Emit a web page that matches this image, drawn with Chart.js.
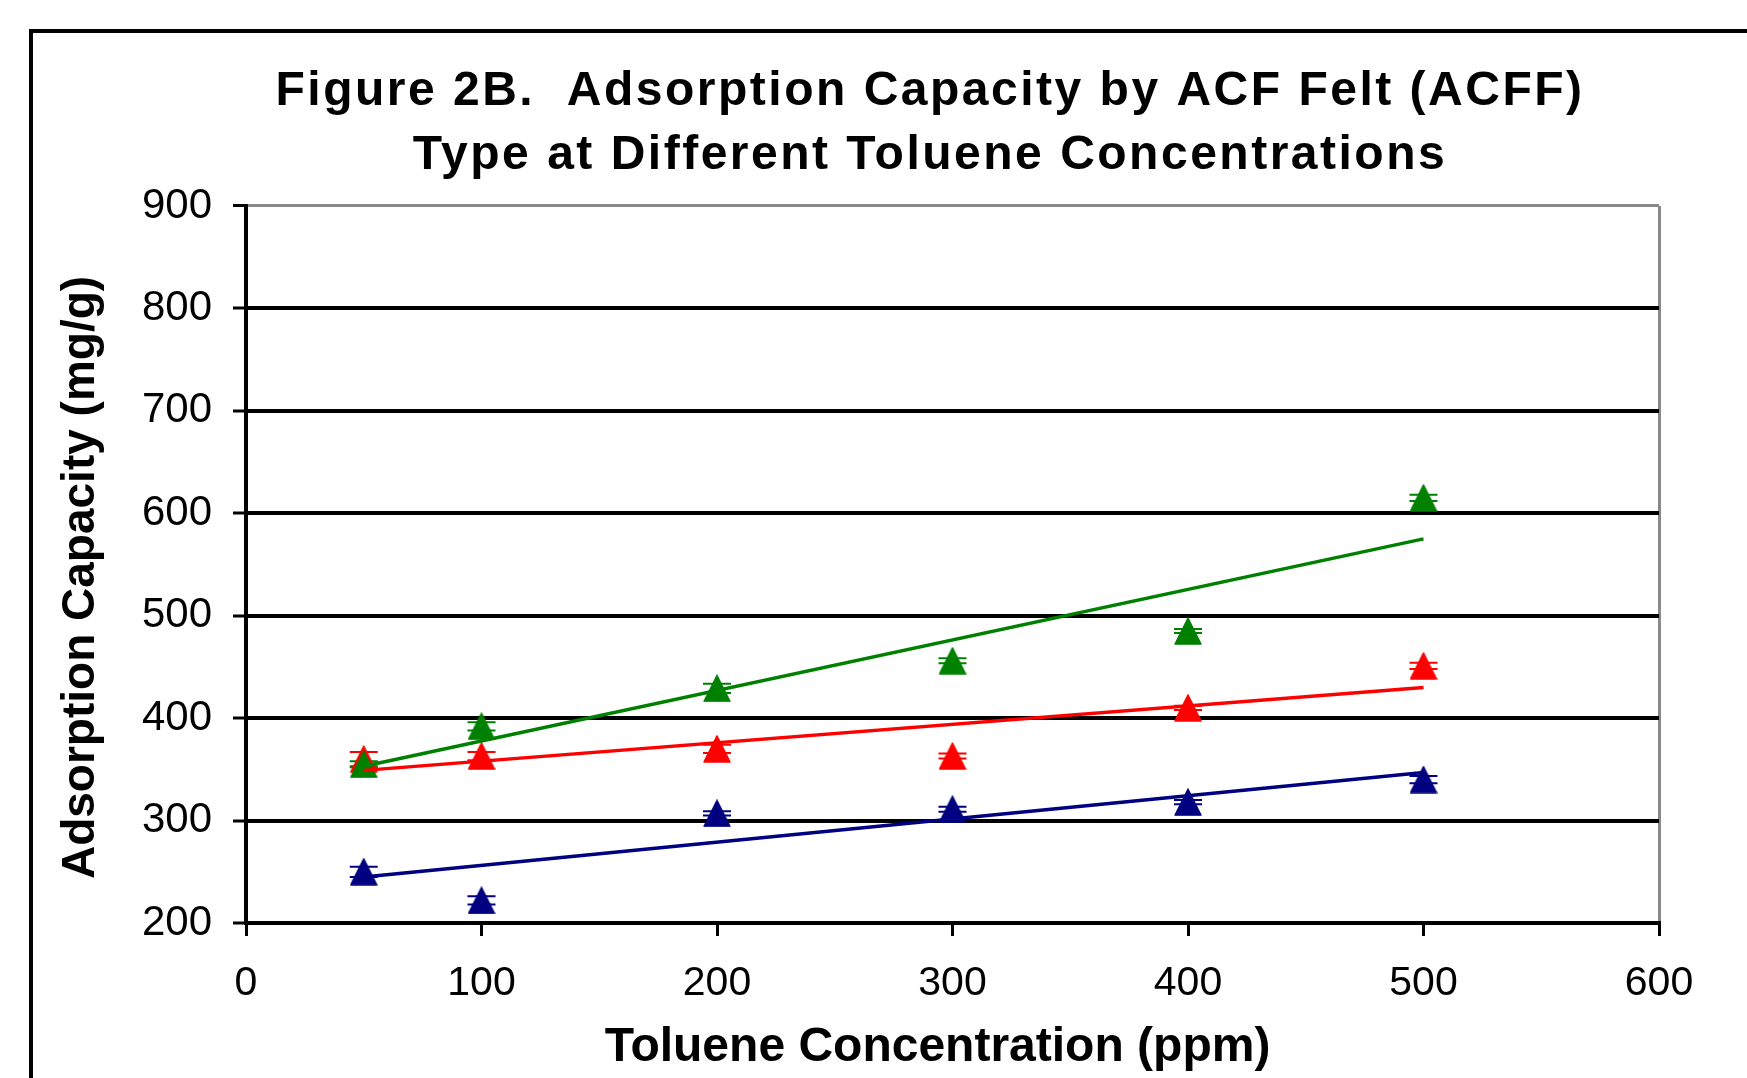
<!DOCTYPE html>
<html>
<head>
<meta charset="utf-8">
<script src="https://cdn.jsdelivr.net/npm/chart.js@4"></script>
<style>
  html, body { margin: 0; padding: 0; background: #fff; overflow: hidden; width: 1747px; height: 1078px; }
  #frame { position: absolute; left: 29px; top: 29px; width: 1900px; height: 1300px; border: 4px solid #000; box-sizing: border-box; }
  #wrap { position: absolute; left: 0; top: 0; width: 1860px; height: 1078px; }
</style>
</head>
<body>
<div id="frame"></div>
<div id="wrap"><canvas id="c" width="1860" height="1078"></canvas></div>
<script>
// ---- data ----
const concentrations = [50, 100, 200, 300, 400, 500];          // ppm
const acffBlue  = [250, 222, 307, 311, 318, 340];              // mg/g
const acffRed   = [360, 363, 370, 363, 410, 451];
const acffGreen = [355, 392, 429, 456, 485, 615];
const errBlue   = [5, 4, 2, 2.5, 2, 3.5];
const errRed    = [7, 4, 4, 2.5, 2, 3];
const errGreen  = [3, 4, 4.5, 2.5, 2, 3];
const trendX     = [50, 500];
const trendBlue  = [245, 347];
const trendRed   = [349, 430];
const trendGreen = [353, 575];
const xTickValues = [0, 100, 200, 300, 400, 500, 600];
const yTickValues = [200, 300, 400, 500, 600, 700, 800, 900];
const titleLines = ['Figure 2B.  Adsorption Capacity by ACF Felt (ACFF)', 'Type at Different Toluene Concentrations'];
const xTitle = 'Toluene Concentration (ppm)';
const yTitle = 'Adsorption Capacity (mg/g)';

const NAVY = '#000080', RED = '#FF0000', GREEN = '#008000', GRAY = '#888888';
const FAMILY = '"Liberation Sans", Arial, sans-serif';

function triangle(color) {
  const c = document.createElement('canvas');
  c.width = 28; c.height = 28;
  const g = c.getContext('2d');
  g.fillStyle = color; g.strokeStyle = color; g.lineWidth = 1.5; g.lineJoin = 'round';
  g.beginPath(); g.moveTo(14, 1); g.lineTo(27, 27); g.lineTo(1, 27); g.closePath();
  g.fill(); g.stroke();
  return c;
}
const pts = (xs, ys) => xs.map((x, i) => ({x, y: ys[i]}));

const errorSeries = [
  {ys: acffBlue, err: errBlue, color: NAVY},
  {ys: acffRed, err: errRed, color: RED},
  {ys: acffGreen, err: errGreen, color: GREEN}
];

const errorBars = {
  id: 'errorBars',
  beforeDatasetsDraw(chart) {
    const {ctx, scales: {x, y}} = chart;
    ctx.save();
    ctx.lineWidth = 2;
    errorSeries.forEach(s => {
      ctx.strokeStyle = s.color;
      concentrations.forEach((cx, i) => {
        const px = x.getPixelForValue(cx);
        const yt = y.getPixelForValue(s.ys[i] + s.err[i]);
        const yb = y.getPixelForValue(s.ys[i] - s.err[i]);
        ctx.beginPath();
        ctx.moveTo(px, yt); ctx.lineTo(px, yb);
        ctx.moveTo(px - 14, yt); ctx.lineTo(px + 14, yt);
        ctx.moveTo(px - 14, yb); ctx.lineTo(px + 14, yb);
        ctx.stroke();
      });
    });
    ctx.restore();
  }
};

// text placement tweaks: letter spacing of the chart title, small offsets of the axis titles
const textTweaks = {
  id: 'textTweaks',
  beforeDraw(chart) {
    const tb = chart.titleBlock;
    if (tb && !tb._tweaked) {
      const orig = tb.draw.bind(tb);
      tb.draw = function (area) {
        const c = this.ctx; const prev = c.letterSpacing;
        c.letterSpacing = '2.5px';
        orig(area);
        c.letterSpacing = prev;
      };
      tb._tweaked = true;
    }
    const shift = (scale, dx, dy) => {
      if (!scale || scale._tweaked) return;
      const orig = scale.drawTitle.bind(scale);
      scale.drawTitle = function () {
        const c = this.ctx; c.save(); c.translate(dx, dy); orig(); c.restore();
      };
      scale._tweaked = true;
    };
    shift(chart.scales.x, -15, 2);
    shift(chart.scales.y, 0, 13);
  }
};

new Chart(document.getElementById('c'), {
  type: 'scatter',
  data: {
    datasets: [
      {type: 'line', label: 'Trend blue', data: pts(trendX, trendBlue), borderColor: NAVY, borderWidth: 3.5, pointRadius: 0, order: 1},
      {type: 'line', label: 'Trend green', data: pts(trendX, trendGreen), borderColor: GREEN, borderWidth: 3.5, pointRadius: 0, order: 2},
      {type: 'line', label: 'Trend red', data: pts(trendX, trendRed), borderColor: RED, borderWidth: 3.5, pointRadius: 0, order: 3},
      {label: 'ACFF green', data: pts(concentrations, acffGreen), pointStyle: triangle(GREEN), pointRadius: 14, backgroundColor: GREEN, borderColor: GREEN, order: 4},
      {label: 'ACFF red', data: pts(concentrations, acffRed), pointStyle: triangle(RED), pointRadius: 14, backgroundColor: RED, borderColor: RED, order: 5},
      {label: 'ACFF blue', data: pts(concentrations, acffBlue), pointStyle: triangle(NAVY), pointRadius: 14, backgroundColor: NAVY, borderColor: NAVY, order: 6}
    ]
  },
  options: {
    responsive: false,
    animation: false,
    devicePixelRatio: 1,
    layout: {padding: 0},
    plugins: {
      legend: {display: false},
      tooltip: {enabled: false},
      title: {
        display: true,
        text: titleLines,
        color: '#000',
        font: {family: FAMILY, size: 48, weight: 'bold', lineHeight: 1.333},
        padding: {top: 60, bottom: 18}
      }
    },
    scales: {
      x: {
        type: 'linear', position: 'bottom',
        min: xTickValues[0], max: xTickValues[xTickValues.length - 1],
        afterBuildTicks: s => { s.ticks = xTickValues.map(v => ({value: v})); },
        afterFit: s => { s.height = 155; },
        ticks: {color: '#000', font: {family: FAMILY, size: 41}, padding: 23, maxRotation: 0},
        grid: {
          color: c => (c.tick && c.tick.value === 600) ? GRAY : 'rgba(0,0,0,0)',
          lineWidth: 3, tickLength: 13, tickColor: '#000', tickWidth: 3
        },
        border: {display: true, color: '#000', width: 4},
        title: {display: true, text: xTitle, color: '#000', font: {family: FAMILY, size: 48, weight: 'bold', lineHeight: 1.2}, padding: {top: 0, bottom: 3}}
      },
      y: {
        type: 'linear', position: 'left',
        min: yTickValues[0], max: yTickValues[yTickValues.length - 1],
        afterBuildTicks: s => { s.ticks = yTickValues.map(v => ({value: v})); },
        afterFit: s => { s.width = 246; },
        ticks: {color: '#000', font: {family: FAMILY, size: 42}, padding: 21},
        grid: {
          color: c => (c.tick && c.tick.value === 900) ? GRAY : '#000',
          lineWidth: c => (c.tick && c.tick.value === 900) ? 3 : 4,
          tickLength: 13, tickColor: '#000', tickWidth: 3
        },
        border: {display: true, color: '#000', width: 4},
        title: {display: true, text: yTitle, color: '#000', font: {family: FAMILY, size: 46, weight: 'bold', lineHeight: 1.2}, padding: {top: 54, bottom: 0}}
      },
      yRight: {
        type: 'linear', position: 'right', display: true,
        afterFit: s => { s.width = 201; },
        ticks: {display: false},
        grid: {display: false},
        border: {display: false}
      }
    }
  },
  plugins: [errorBars, textTweaks]
});
</script>
</body>
</html>
